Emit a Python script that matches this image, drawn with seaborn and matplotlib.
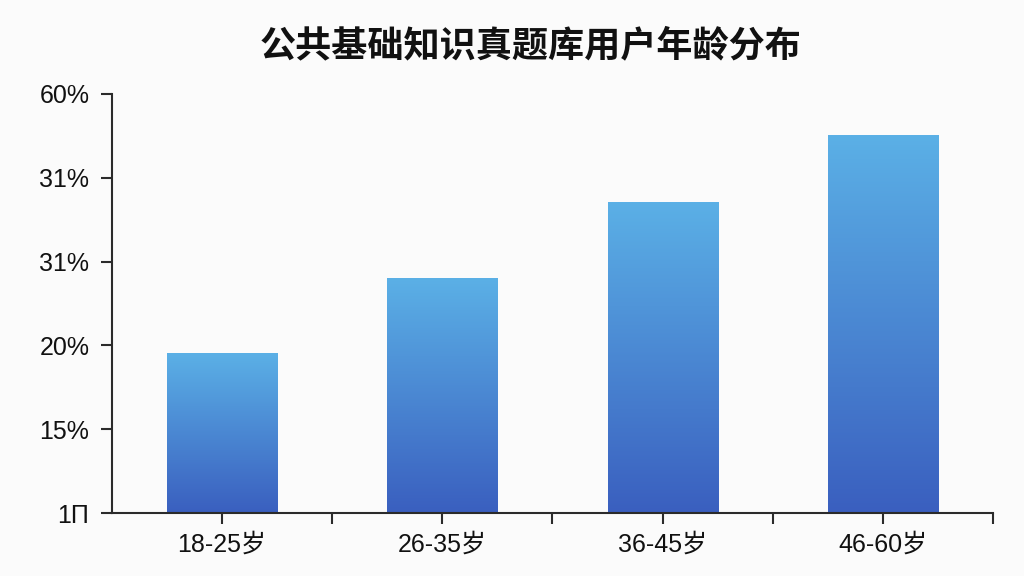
import numpy as np
import pandas as pd
import seaborn as sns
import matplotlib.pyplot as plt
from matplotlib.colors import LinearSegmentedColormap
from matplotlib.ticker import FixedLocator

# --- datos ---
grupos = ["18-25岁", "26-35岁", "36-45岁", "46-60岁"]
porcentajes = [19.5, 24.0, 28.5, 32.5]
ticks_y = [10, 15, 20, 25, 30, 35]
etiquetas_y = ["1\u03a0", "15%", "20%", "31%", "31%", "60%"]
titulo = "公共基础知识真题库用户年龄分布"

COLOR_ARRIBA = "#5BB0E6"
COLOR_ABAJO = "#3A5FBF"
COLOR_EJE = "#2b2b2b"

sns.set_theme(style="ticks", rc={
    "xtick.major.size": 8, "xtick.minor.size": 8, "ytick.major.size": 8,
    "xtick.major.width": 1.5, "xtick.minor.width": 1.5, "ytick.major.width": 1.5,
    "xtick.bottom": True, "xtick.major.bottom": True, "xtick.minor.bottom": True,
    "xtick.color": COLOR_EJE, "ytick.color": COLOR_EJE,
})
plt.rcParams['font.family'] = ['Liberation Sans', 'Noto Sans CJK SC', 'DejaVu Sans']

df = pd.DataFrame({"grupo": grupos, "pct": porcentajes})

fig = plt.figure(figsize=(10.24, 5.76), dpi=100)
fig.patch.set_facecolor("#FBFBFB")
ax = fig.add_axes([0.109, 0.109, 0.861, 0.728])
ax.set_facecolor("#FBFBFB")

sns.barplot(data=df, x="grupo", y="pct", color=COLOR_ABAJO, width=0.5,
            errorbar=None, ax=ax)

# degradado vertical en cada barra (la imagen ocupa justo la barra)
cmap = LinearSegmentedColormap.from_list("azul", [COLOR_ABAJO, COLOR_ARRIBA])
grad = np.linspace(0, 1, 256).reshape(-1, 1)
for p in list(ax.patches):
    x0, w, top = p.get_x(), p.get_width(), p.get_y() + p.get_height()
    ax.imshow(grad, cmap=cmap, origin="lower", aspect="auto",
              extent=[x0, x0 + w, 10, top], zorder=2)
    p.remove()

n = len(grupos)
ax.set_xlim(-0.5, n - 0.5)
ax.set_ylim(10, 35)
ax.set_yticks(ticks_y)
ax.set_yticklabels(etiquetas_y)
ax.set_xticks(range(n), grupos)
ax.xaxis.set_minor_locator(FixedLocator([i + 0.5 for i in range(n)]))
ax.set_xlabel("")
ax.set_ylabel("")
ax.set_axisbelow(False)

for lado in ["top", "right"]:
    ax.spines[lado].set_visible(False)
for lado in ["left", "bottom"]:
    ax.spines[lado].set_color(COLOR_EJE)
    ax.spines[lado].set_linewidth(1.5)

ax.xaxis.set_tick_params(which="both", size=8, width=1.5, tick1On=True,
                         direction="out", color=COLOR_EJE)
ax.tick_params(axis="both", which="both", labelsize=18, labelcolor="#111111")
ax.tick_params(axis="y", pad=8, length=8, width=1.5, direction="out")
ax.tick_params(axis="x", pad=6)

fig.text(0.518, 0.918, titulo, ha="center", va="center", fontsize=26,
         fontweight="bold", color="#111111")

fig.savefig("out.png", dpi=100, facecolor=fig.get_facecolor())
